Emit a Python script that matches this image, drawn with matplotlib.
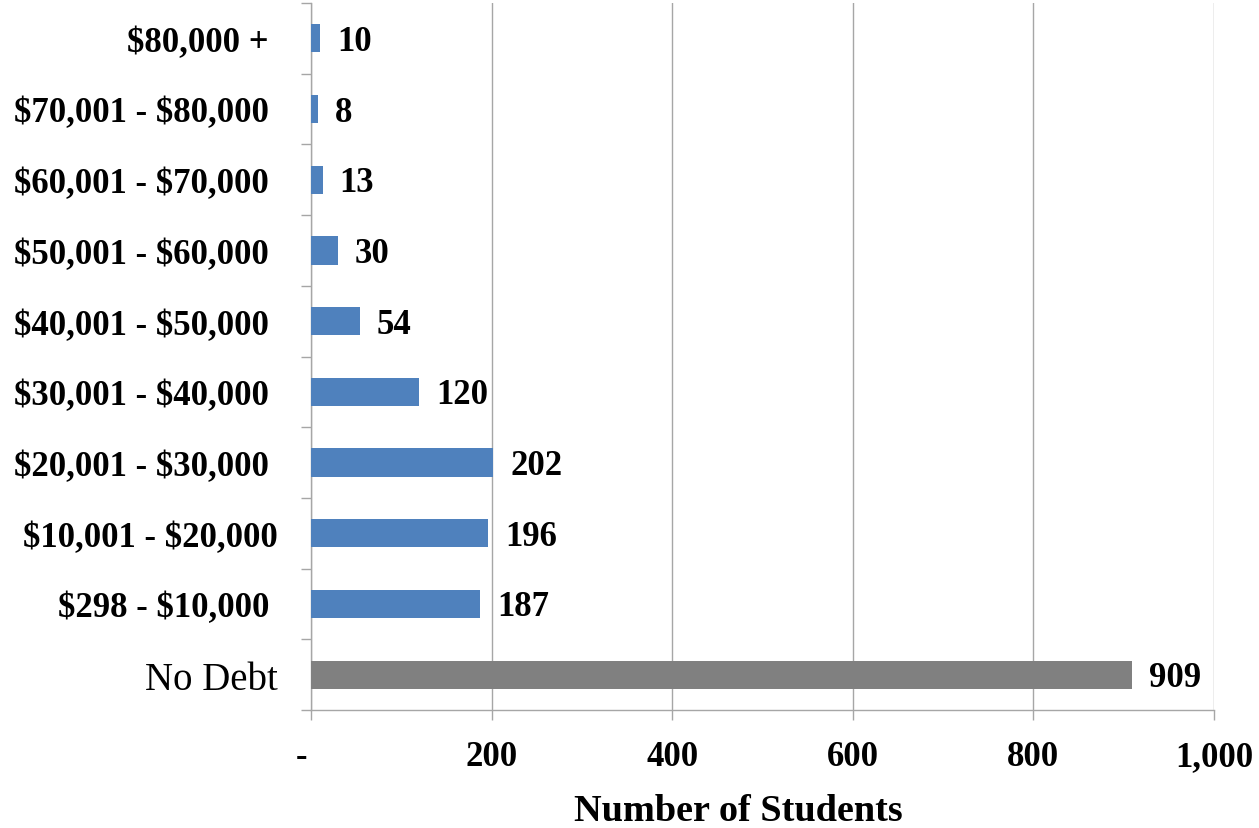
import numpy as np
import matplotlib
matplotlib.use("Agg")
import matplotlib.pyplot as plt
from matplotlib.ticker import FixedLocator

plt.rcParams["text.parse_math"] = False

# debt ranges, bottom to top
categories = ["No Debt", "$298 - $10,000 ", "$10,001 - $20,000", "$20,001 - $30,000 ",
              "$30,001 - $40,000 ", "$40,001 - $50,000 ", "$50,001 - $60,000 ",
              "$60,001 - $70,000 ", "$70,001 - $80,000 ", "$80,000 + "]
students = [909, 187, 196, 202, 120, 54, 30, 13, 8, 10]
xticks = [0, 200, 400, 600, 800, 1000]
xtick_labels = ["-  ", "200", "400", "600", "800", "1,000"]

blue = "#4F81BD"
grey = "#808080"
line = "#A6A6A6"
font = "Liberation Serif"

fig = plt.figure(figsize=(12.59, 8.29), dpi=100)
ax = fig.add_axes([0.2470, 0.1423, 0.7172, 0.8529])

y = np.arange(len(categories))
colors = [grey] + [blue] * (len(categories) - 1)
ax.barh(y, students, height=0.4, color=colors, zorder=3)

for yi, v in zip(y, students):
    ax.annotate(str(v), (v, yi), xytext=(17, -3), textcoords="offset pixels",
                va="center", ha="left", fontsize=25, fontweight="bold",
                family=font, color="black")

ax.set_xlim(0, 1000)
ax.set_ylim(-0.5, len(categories) - 0.5)

ax.set_xticks(xticks)
ax.set_xticklabels(xtick_labels, fontsize=25, fontweight="bold", family=font)
ax.tick_params(axis="x", length=7.5, width=1, color=line, pad=14)

ax.set_yticks(y)
ax.set_yticklabels(categories, fontsize=25, family=font)
for lbl in ax.get_yticklabels():
    if lbl.get_text() == "No Debt":
        lbl.set_fontsize(28)
    else:
        lbl.set_fontweight("bold")
ax.tick_params(axis="y", which="major", length=0, pad=24)
ax.yaxis.set_minor_locator(FixedLocator(np.arange(-0.5, len(categories), 1.0)))
ax.tick_params(axis="y", which="minor", length=7.5, width=1, color=line)

ax.grid(axis="x", color=line, linewidth=1, zorder=0)
ax.set_axisbelow(True)
for side in ["top", "right"]:
    ax.spines[side].set_visible(False)
for side in ["left", "bottom"]:
    ax.spines[side].set_color(line)
    ax.spines[side].set_linewidth(1)

ax.set_xlabel("Number of Students", fontsize=27.5, fontweight="bold", family=font)
ax.xaxis.set_label_coords(0.473, -0.117)

fig.savefig("out.png", dpi=100)
